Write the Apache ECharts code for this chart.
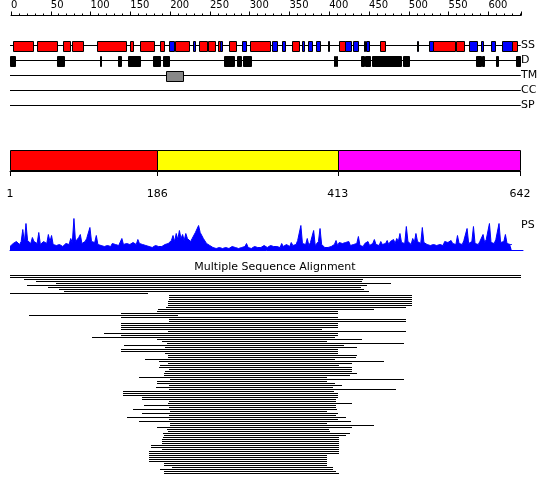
<!DOCTYPE html>
<html><head><meta charset="utf-8">
<script src="https://cdn.jsdelivr.net/npm/echarts@6/dist/echarts.min.js"></script>
<style>html,body{margin:0;padding:0;background:#fff}#c{width:550px;height:495px}</style>
</head><body><div id="c"></div>
<script>
// ---------- data ----------
const seqLength = 642;
const rulerMax = 641;
const trackNames = ['SS', 'D', 'TM', 'CC', 'SP'];
const helices = [[5,30],[35,60],[67,77],[79,93],[110,147],[152,156],[165,182],[189,195],[209,226],[238,248],[250,259],[262,265],[276,285],[303,328],[355,364],[414,422],[466,472],[533,560],[562,571],[632,638]];
const strands = [[201,207],[231,234],[265,268],[292,297],[330,337],[343,347],[368,370],[375,380],[385,390],[401,402],[422,430],[432,439],[446,447],[449,452],[512,513],[528,533],[578,588],[593,595],[606,611],[619,632]];
const disordered = [[1,7],[60,69],[114,116],[137,140],[149,165],[181,190],[193,201],[270,283],[286,291],[294,304],[408,410],[411,412],[442,446],[447,454],[456,492],[495,503],[587,593],[594,597],[612,614],[637,642]];
const transmembrane = [[197,219]];
const domainBounds = [1, 186, 413, 642];
const psScores = [
  4,6,7,5,9,8,6,9,21,8,27,10,11,7,13,9,8,7,18,6,7,9,8,7,16,9,15,6,6,5,
  5,6,7,4,5,7,8,6,12,8,32,9,10,13,16,7,8,9,12,10,23,9,10,8,15,6,6,5,7,4,
  6,5,5,4,7,5,6,4,5,7,12,6,8,7,9,6,7,8,8,6,11,7,9,6,7,5,6,4,5,3,
  4,5,5,4,6,4,5,6,6,7,8,10,15,9,17,11,20,12,16,10,17,12,13,9,12,14,18,16,25,18,
  20,12,10,7,8,5,4,3,3,2,4,3,3,2,2,3,4,2,3,4,5,3,3,2,4,3,3,4,7,3,
  4,2,3,4,5,3,4,3,3,5,6,3,4,5,5,4,6,4,5,3,7,4,5,6,6,4,8,5,7,6,
  10,8,25,7,9,6,12,5,8,6,20,5,7,9,22,6,6,3,4,3,5,4,4,6,10,5,8,6,7,5,
  8,6,9,5,7,6,8,7,14,5,6,4,7,6,9,5,6,7,11,6,7,5,9,6,8,7,10,6,9,8,
  11,7,12,9,17,8,10,7,24,9,8,6,12,8,17,9,10,7,23,8,9,6,8,5,7,6,6,5,7,6,
  8,5,9,7,8,6,10,7,9,6,15,7,8,6,10,8,22,7,7,9,24,7,8,6,9,7,16,8,11,9,
  27,8,9,7,11,9,27,8,10,9,16,7,8,6,6];
const psPositions = psScores.map((v, i) => 1 + 2 * i);
const msaStart = [1,1,19,34,59,22,49,63,69,1,
  201,201,201,200,200,199,197,187,186,140,
  25,140,201,201,140,140,140,140,200,119,
  140,104,186,192,198,144,196,140,140,196,
  200,200,171,188,200,190,188,201,196,194,
  195,163,202,186,186,201,184,201,143,143,
  143,167,167,201,200,169,201,156,202,167,
  201,148,201,163,202,202,186,198,200,193,
  195,193,192,192,192,178,178,192,176,176,
  176,176,176,176,195,195,205,190,195,195];
const msaEnd = [643,643,445,443,480,450,442,446,452,174,
  506,506,506,506,506,506,499,458,413,413,
  212,413,499,499,413,413,413,393,499,413,
  413,410,443,399,496,421,437,413,413,413,
  437,436,410,471,431,415,431,431,431,437,
  428,399,496,399,410,418,407,486,408,413,
  413,413,411,411,431,411,411,412,399,413,
  411,423,413,430,399,458,431,402,403,428,
  423,415,415,415,415,415,415,415,415,415,
  399,399,399,399,399,399,407,407,411,415];

// ---------- helpers ----------
const FONT = 'DejaVu Sans';
function rectRender(color, frac) {
  return function (params, api) {
    const y = api.value(2);
    const s = api.coord([api.value(0), y]);
    const e = api.coord([api.value(1), y]);
    const h = Math.round(api.size([0, 1])[1] * frac);
    const x0 = Math.round(s[0]) + 0.5, x1 = Math.round(e[0]) + 0.5;
    return {type: 'rect', shape: {x: x0, y: Math.round(s[1] - h / 2) + 0.5, width: Math.max(x1 - x0, 1), height: h},
      style: {fill: color, stroke: '#000', lineWidth: 1}};
  };
}
const trackRow = (arr, name) => arr.map(d => [d[0], d[1], name]);

const domainData = [];
for (let i = 0; i < domainBounds.length - 1; i++) domainData.push([domainBounds[i], domainBounds[i + 1], 0, i]);
const domainColors = ['#ff0000', '#ffff00', '#ff00ff'];

const msaData = msaStart.map((s, i) => [s, msaEnd[i], i]);
const msaRows = msaStart.map((s, i) => String(i));

const option = {
  animation: false,
  textStyle: {fontFamily: FONT},
  title: {text: 'Multiple Sequence Alignment', left: 'center', top: 257,
    textStyle: {fontFamily: FONT, fontSize: 11, fontWeight: 'normal', color: '#000'}},
  graphic: [{type: 'text', left: 521, top: 220, style: {text: 'PS', font: '11px DejaVu Sans', fill: '#000'}}],
  grid: [
    {left: 11, top: 14.5, width: 510, height: 1},
    {left: 10, top: 38, width: 510, height: 75},
    {left: 10, top: 150, width: 510, height: 21},
    {left: 10, top: 218.5, width: 513, height: 32},
    {left: 10, top: 274.5, width: 510, height: 200}
  ],
  xAxis: [
    {gridIndex: 0, type: 'value', position: 'top', min: 0, max: rulerMax, interval: 50,
      axisLine: {lineStyle: {color: '#000'}}, axisTick: {length: 4, lineStyle: {color: '#000'}},
      minorTick: {show: true, splitNumber: 5, length: 2, lineStyle: {color: '#000'}},
      axisLabel: {align: 'left', margin: 5, fontSize: 10, color: '#000', fontFamily: FONT,
        showMaxLabel: false}, splitLine: {show: false}},
    {gridIndex: 1, type: 'value', min: 1, max: seqLength, show: false},
    {gridIndex: 2, type: 'value', min: 1, max: seqLength, offset: 10,
      axisLine: {lineStyle: {color: '#000'}},
      axisTick: {length: 5, customValues: domainBounds, lineStyle: {color: '#000'}},
      axisLabel: {customValues: domainBounds, margin: 8, fontSize: 11, color: '#000', fontFamily: FONT},
      splitLine: {show: false}},
    {gridIndex: 3, type: 'value', min: 1, max: 643, axisLine: {lineStyle: {color: '#0000ff'}},
      axisTick: {show: false}, axisLabel: {show: false}, splitLine: {show: false}},
    {gridIndex: 4, type: 'value', min: 1, max: seqLength, show: false}
  ],
  yAxis: [
    {gridIndex: 0, type: 'value', show: false},
    {gridIndex: 1, type: 'category', data: trackNames, inverse: true, position: 'right',
      axisLine: {show: false}, axisTick: {show: false},
      axisLabel: {margin: 1, fontSize: 11, color: '#000', fontFamily: FONT}},
    {gridIndex: 2, type: 'value', min: 0, max: 1, show: false},
    {gridIndex: 3, type: 'value', min: 0, max: 32, show: false},
    {gridIndex: 4, type: 'category', data: msaRows, inverse: true, show: false}
  ],
  series: [
    ...trackNames.map(n => ({type: 'line', xAxisIndex: 1, yAxisIndex: 1, data: [[1, n], [643, n]],
      symbol: 'none', lineStyle: {color: '#000', width: 1}, z: 1, silent: true})),
    {type: 'custom', xAxisIndex: 1, yAxisIndex: 1, data: trackRow(helices, 'SS'), renderItem: rectRender('#ff0000', 0.667), z: 3},
    {type: 'custom', xAxisIndex: 1, yAxisIndex: 1, data: trackRow(strands, 'SS'), renderItem: rectRender('#0000ff', 0.667), z: 3},
    {type: 'custom', xAxisIndex: 1, yAxisIndex: 1, data: trackRow(disordered, 'D'), renderItem: rectRender('#000000', 0.667), z: 3},
    {type: 'custom', xAxisIndex: 1, yAxisIndex: 1, data: trackRow(transmembrane, 'TM'), renderItem: rectRender('#888888', 0.667), z: 3},
    {type: 'custom', xAxisIndex: 2, yAxisIndex: 2, data: domainData,
      renderItem: function (params, api) {
        const s = api.coord([api.value(0), 1]);
        const e = api.coord([api.value(1), 0]);
        return {type: 'rect', shape: {x: Math.round(s[0]) + 0.5, y: Math.round(s[1]) + 0.5,
          width: Math.round(e[0]) - Math.round(s[0]), height: Math.round(e[1]) - Math.round(s[1]) - 1},
          style: {fill: domainColors[api.value(3)], stroke: '#000', lineWidth: 1}};
      }},
    {type: 'line', xAxisIndex: 3, yAxisIndex: 3, data: psPositions.map((p, i) => [p, psScores[i]]),
      symbol: 'none', lineStyle: {color: '#0000ff', width: 1}, areaStyle: {color: '#0000ff', opacity: 1}},
    {type: 'custom', xAxisIndex: 4, yAxisIndex: 4, data: msaData,
      renderItem: function (params, api) {
        const s = api.coord([api.value(0), api.value(2)]);
        const e = api.coord([api.value(1), api.value(2)]);
        return {type: 'rect', shape: {x: Math.round(s[0]), y: Math.round(s[1] - 0.5), width: Math.round(e[0]) - Math.round(s[0]), height: 1},
          style: {fill: '#000'}};
      }}
  ]
};
const chart = echarts.init(document.getElementById('c'), null, {renderer: 'canvas'});
chart.setOption(option);
</script></body></html>
